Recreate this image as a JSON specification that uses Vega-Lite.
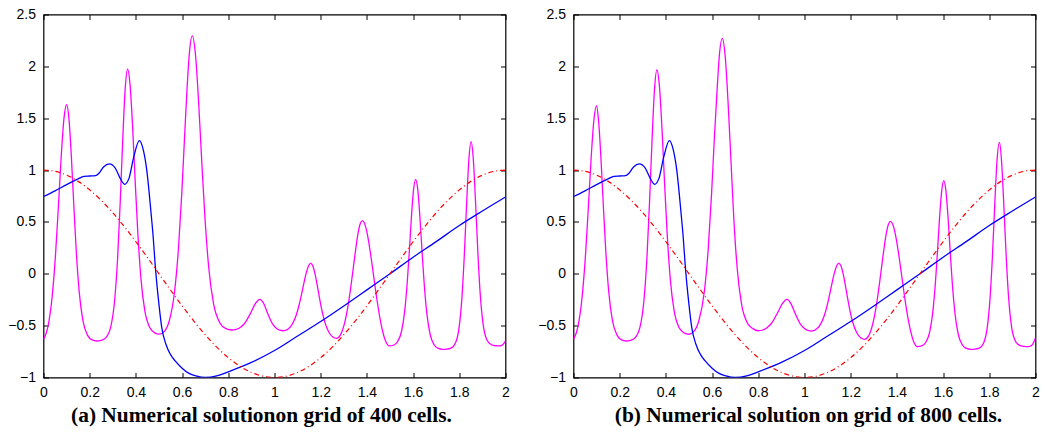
{
  "$schema": "https://vega.github.io/schema/vega-lite/v6.json",
  "padding": {"left": 6.5, "top": 6.5, "right": 5, "bottom": 5},
  "background": "white",
  "config": {
    "view": {"stroke": "#000000", "strokeWidth": 1.2},
    "concat": {"spacing": 26},
    "axis": {
      "domain": false, "grid": false, "ticks": true, "tickSize": -5, "tickColor": "#000000", "tickWidth": 1,
      "labelFont": "Liberation Sans", "labelFontSize": 14, "labelColor": "#000000", "labelPadding": 13,
      "labelFlush": false, "labelOverlap": false, "labelBound": false, "title": null, "format": "~g"
    },
    "title": {"font": "Liberation Serif", "fontSize": 21.4, "fontWeight": "bold", "color": "#000000", "orient": "bottom", "offset": 5}
  },
  "datasets": {
    "rd": [
      {"x":0,"y":1},{"x":0.05,"y":0.9877},{"x":0.1,"y":0.9511},{"x":0.15,"y":0.891},{"x":0.2,"y":0.809},{"x":0.25,"y":0.7071},{"x":0.3,"y":0.5878},{"x":0.35,"y":0.454},{"x":0.4,"y":0.309},{"x":0.45,"y":0.1564},
      {"x":0.5,"y":0},{"x":0.55,"y":-0.1564},{"x":0.6,"y":-0.309},{"x":0.65,"y":-0.454},{"x":0.7,"y":-0.5878},{"x":0.75,"y":-0.7071},{"x":0.8,"y":-0.809},{"x":0.85,"y":-0.891},{"x":0.9,"y":-0.9511},{"x":0.95,"y":-0.9877},
      {"x":1,"y":-1},{"x":1.05,"y":-0.9877},{"x":1.1,"y":-0.9511},{"x":1.15,"y":-0.891},{"x":1.2,"y":-0.809},{"x":1.25,"y":-0.7071},{"x":1.3,"y":-0.5878},{"x":1.35,"y":-0.454},{"x":1.4,"y":-0.309},{"x":1.45,"y":-0.1564},
      {"x":1.5,"y":0},{"x":1.55,"y":0.1564},{"x":1.6,"y":0.309},{"x":1.65,"y":0.454},{"x":1.7,"y":0.5878},{"x":1.75,"y":0.7071},{"x":1.8,"y":0.809},{"x":1.85,"y":0.891},{"x":1.9,"y":0.9511},{"x":1.95,"y":0.9877},{"x":2,"y":1}
    ],
    "bl": [
      {"x":0,"y":0.745},{"x":0.05,"y":0.8},{"x":0.1,"y":0.86},{"x":0.15,"y":0.915},{"x":0.175,"y":0.94},{"x":0.2,"y":0.943},{"x":0.225,"y":0.946},{"x":0.24,"y":0.97},{"x":0.26,"y":1.03},{"x":0.285,"y":1.059},
      {"x":0.31,"y":1.02},{"x":0.33,"y":0.93},{"x":0.351,"y":0.863},{"x":0.37,"y":0.92},{"x":0.39,"y":1.12},{"x":0.415,"y":1.283},{"x":0.432,"y":1.194},{"x":0.447,"y":1.0},{"x":0.465,"y":0.6},{"x":0.475,"y":0.35},
      {"x":0.483,"y":0.1},{"x":0.5,"y":-0.3},{"x":0.512,"y":-0.52},{"x":0.53,"y":-0.68},{"x":0.55,"y":-0.78},{"x":0.57,"y":-0.84},{"x":0.6,"y":-0.91},{"x":0.63,"y":-0.96},{"x":0.66,"y":-0.985},{"x":0.7,"y":-1.0},
      {"x":0.75,"y":-0.985},{"x":0.8,"y":-0.945},{"x":0.9,"y":-0.855},{"x":1.0,"y":-0.74},{"x":1.1,"y":-0.6},{"x":1.2,"y":-0.46},{"x":1.3,"y":-0.31},{"x":1.4,"y":-0.155},{"x":1.5,"y":0.0},{"x":1.6,"y":0.16},
      {"x":1.7,"y":0.31},{"x":1.8,"y":0.465},{"x":1.9,"y":0.605},{"x":2.0,"y":0.74}
    ],
    "ma": [
      {"x":0,"y":-0.632},{"x":0.019,"y":-0.512},{"x":0.037,"y":-0.231},{"x":0.052,"y":0.182},{"x":0.064,"y":0.629},{"x":0.076,"y":1.106},{"x":0.088,"y":1.484},{"x":0.1,"y":1.63},{"x":0.1104,"y":1.489},{"x":0.1208,"y":1.122},
      {"x":0.1312,"y":0.66},{"x":0.1416,"y":0.227},{"x":0.1546,"y":-0.174},{"x":0.1702,"y":-0.446},{"x":0.191,"y":-0.594},{"x":0.2105,"y":-0.638},{"x":0.23,"y":-0.648},{"x":0.2501,"y":-0.642},{"x":0.2702,"y":-0.616},{"x":0.2916,"y":-0.508},
      {"x":0.3077,"y":-0.263},{"x":0.3211,"y":0.161},{"x":0.3318,"y":0.675},{"x":0.3426,"y":1.27},{"x":0.3533,"y":1.773},{"x":0.364,"y":1.972},{"x":0.375,"y":1.814},{"x":0.3861,"y":1.402},{"x":0.3971,"y":0.884},{"x":0.4082,"y":0.399},
      {"x":0.422,"y":-0.051},{"x":0.4385,"y":-0.356},{"x":0.4606,"y":-0.521},{"x":0.4813,"y":-0.57},{"x":0.502,"y":-0.582},{"x":0.5233,"y":-0.555},{"x":0.5446,"y":-0.453},{"x":0.5673,"y":-0.173},{"x":0.5844,"y":0.248},{"x":0.5986,"y":0.775},
      {"x":0.6099,"y":1.282},{"x":0.6213,"y":1.781},{"x":0.6326,"y":2.155},{"x":0.644,"y":2.293},{"x":0.6577,"y":2.117},{"x":0.6714,"y":1.661},{"x":0.685,"y":1.085},{"x":0.6987,"y":0.547},{"x":0.7158,"y":0.048},{"x":0.7363,"y":-0.291},
      {"x":0.7637,"y":-0.474},{"x":0.7894,"y":-0.529},{"x":0.815,"y":-0.542},{"x":0.8333,"y":-0.537},{"x":0.8516,"y":-0.518},{"x":0.8711,"y":-0.477},{"x":0.898,"y":-0.373},{"x":0.9175,"y":-0.286},{"x":0.937,"y":-0.246},{"x":0.9532,"y":-0.287},
      {"x":0.9693,"y":-0.376},{"x":0.9915,"y":-0.483},{"x":1.0077,"y":-0.525},{"x":1.0229,"y":-0.544},{"x":1.038,"y":-0.549},{"x":1.0558,"y":-0.537},{"x":1.0737,"y":-0.497},{"x":1.0927,"y":-0.407},{"x":1.107,"y":-0.296},{"x":1.1189,"y":-0.178},
      {"x":1.1284,"y":-0.0775},{"x":1.138,"y":0.0135},{"x":1.1475,"y":0.078},{"x":1.157,"y":0.101},{"x":1.166,"y":0.075},{"x":1.1749,"y":0.0037},{"x":1.1839,"y":-0.0975},{"x":1.1928,"y":-0.209},{"x":1.204,"y":-0.341},{"x":1.2175,"y":-0.464},
      {"x":1.2354,"y":-0.564},{"x":1.2522,"y":-0.609},{"x":1.269,"y":-0.622},{"x":1.2856,"y":-0.589},{"x":1.3023,"y":-0.485},{"x":1.3201,"y":-0.285},{"x":1.3334,"y":-0.077},{"x":1.3445,"y":0.117},{"x":1.3534,"y":0.268},{"x":1.3622,"y":0.396},
      {"x":1.3711,"y":0.482},{"x":1.38,"y":0.512},{"x":1.3894,"y":0.487},{"x":1.3989,"y":0.413},{"x":1.4083,"y":0.301},{"x":1.4178,"y":0.162},{"x":1.4296,"y":-0.029},{"x":1.4437,"y":-0.253},{"x":1.4626,"y":-0.499},{"x":1.4803,"y":-0.645},
      {"x":1.498,"y":-0.696},{"x":1.515,"y":-0.689},{"x":1.5319,"y":-0.658},{"x":1.55,"y":-0.554},{"x":1.5635,"y":-0.362},{"x":1.5748,"y":-0.079},{"x":1.5839,"y":0.226},{"x":1.5929,"y":0.553},{"x":1.602,"y":0.811},{"x":1.611,"y":0.911},
      {"x":1.6203,"y":0.809},{"x":1.6296,"y":0.545},{"x":1.6388,"y":0.213},{"x":1.6481,"y":-0.099},{"x":1.6597,"y":-0.387},{"x":1.6736,"y":-0.583},{"x":1.6922,"y":-0.689},{"x":1.7096,"y":-0.72},{"x":1.727,"y":-0.728},{"x":1.7456,"y":-0.726},
      {"x":1.7642,"y":-0.716},{"x":1.784,"y":-0.664},{"x":1.7989,"y":-0.522},{"x":1.8113,"y":-0.235},{"x":1.8212,"y":0.157},{"x":1.8312,"y":0.651},{"x":1.8411,"y":1.09},{"x":1.851,"y":1.274},{"x":1.861,"y":1.093},{"x":1.871,"y":0.661},
      {"x":1.881,"y":0.175},{"x":1.891,"y":-0.21},{"x":1.9035,"y":-0.493},{"x":1.9185,"y":-0.633},{"x":1.9385,"y":-0.684},{"x":1.9573,"y":-0.694},{"x":1.976,"y":-0.696},{"x":1.988,"y":-0.684},{"x":2.0,"y":-0.648}
    ],
    "mb": [
      {"x":0,"y":-0.632},{"x":0.019,"y":-0.512},{"x":0.037,"y":-0.231},{"x":0.052,"y":0.182},{"x":0.064,"y":0.629},{"x":0.076,"y":1.1},{"x":0.088,"y":1.475},{"x":0.1,"y":1.62},{"x":0.1084,"y":1.48},{"x":0.1188,"y":1.115},
      {"x":0.1292,"y":0.656},{"x":0.1396,"y":0.225},{"x":0.1526,"y":-0.174},{"x":0.1682,"y":-0.446},{"x":0.189,"y":-0.594},{"x":0.2085,"y":-0.638},{"x":0.227,"y":-0.648},{"x":0.2471,"y":-0.642},{"x":0.2672,"y":-0.616},{"x":0.2886,"y":-0.508},
      {"x":0.3047,"y":-0.263},{"x":0.3181,"y":0.161},{"x":0.3288,"y":0.673},{"x":0.3396,"y":1.266},{"x":0.3503,"y":1.766},{"x":0.361,"y":1.965},{"x":0.372,"y":1.807},{"x":0.3831,"y":1.397},{"x":0.3941,"y":0.881},{"x":0.4052,"y":0.397},
      {"x":0.419,"y":-0.051},{"x":0.4355,"y":-0.356},{"x":0.4576,"y":-0.521},{"x":0.4783,"y":-0.57},{"x":0.499,"y":-0.583},{"x":0.5213,"y":-0.555},{"x":0.5426,"y":-0.453},{"x":0.5663,"y":-0.173},{"x":0.5834,"y":0.245},{"x":0.5976,"y":0.768},
      {"x":0.6089,"y":1.27},{"x":0.6213,"y":1.762},{"x":0.6326,"y":2.134},{"x":0.644,"y":2.27},{"x":0.6567,"y":2.096},{"x":0.6694,"y":1.643},{"x":0.682,"y":1.075},{"x":0.6937,"y":0.542},{"x":0.7088,"y":0.048},{"x":0.7273,"y":-0.291},
      {"x":0.7527,"y":-0.474},{"x":0.7764,"y":-0.529},{"x":0.801,"y":-0.549},{"x":0.8193,"y":-0.542},{"x":0.8376,"y":-0.52},{"x":0.8571,"y":-0.477},{"x":0.884,"y":-0.373},{"x":0.9045,"y":-0.286},{"x":0.924,"y":-0.246},{"x":0.9412,"y":-0.287},
      {"x":0.9583,"y":-0.376},{"x":0.9815,"y":-0.483},{"x":0.9987,"y":-0.525},{"x":1.0149,"y":-0.546},{"x":1.031,"y":-0.552},{"x":1.0478,"y":-0.54},{"x":1.0657,"y":-0.5},{"x":1.0847,"y":-0.409},{"x":1.099,"y":-0.297},{"x":1.1109,"y":-0.178},
      {"x":1.1204,"y":-0.078},{"x":1.13,"y":0.013},{"x":1.1395,"y":0.077},{"x":1.148,"y":0.1},{"x":1.158,"y":0.074},{"x":1.1669,"y":0.003},{"x":1.1759,"y":-0.099},{"x":1.1848,"y":-0.212},{"x":1.196,"y":-0.347},{"x":1.2095,"y":-0.472},
      {"x":1.2274,"y":-0.573},{"x":1.2442,"y":-0.619},{"x":1.26,"y":-0.632},{"x":1.2776,"y":-0.598},{"x":1.2943,"y":-0.493},{"x":1.3121,"y":-0.29},{"x":1.3254,"y":-0.08},{"x":1.3365,"y":0.113},{"x":1.3454,"y":0.263},{"x":1.3542,"y":0.39},
      {"x":1.3631,"y":0.476},{"x":1.371,"y":0.506},{"x":1.3814,"y":0.481},{"x":1.3909,"y":0.407},{"x":1.4003,"y":0.296},{"x":1.4098,"y":0.157},{"x":1.4216,"y":-0.033},{"x":1.4357,"y":-0.258},{"x":1.4546,"y":-0.505},{"x":1.4723,"y":-0.652},
      {"x":1.489,"y":-0.703},{"x":1.507,"y":-0.696},{"x":1.5239,"y":-0.665},{"x":1.542,"y":-0.56},{"x":1.5555,"y":-0.367},{"x":1.5668,"y":-0.083},{"x":1.5759,"y":0.222},{"x":1.5849,"y":0.546},{"x":1.594,"y":0.799},{"x":1.603,"y":0.898},
      {"x":1.6123,"y":0.797},{"x":1.6216,"y":0.538},{"x":1.6308,"y":0.209},{"x":1.6401,"y":-0.101},{"x":1.6517,"y":-0.388},{"x":1.6656,"y":-0.583},{"x":1.6842,"y":-0.689},{"x":1.7016,"y":-0.72},{"x":1.72,"y":-0.728},{"x":1.7376,"y":-0.726},
      {"x":1.7562,"y":-0.716},{"x":1.776,"y":-0.664},{"x":1.7909,"y":-0.522},{"x":1.8033,"y":-0.235},{"x":1.8132,"y":0.155},{"x":1.8232,"y":0.647},{"x":1.8331,"y":1.085},{"x":1.844,"y":1.268},{"x":1.853,"y":1.088},{"x":1.863,"y":0.658},
      {"x":1.873,"y":0.173},{"x":1.883,"y":-0.212},{"x":1.8955,"y":-0.497},{"x":1.9105,"y":-0.638},{"x":1.9305,"y":-0.69},{"x":1.9493,"y":-0.7},{"x":1.97,"y":-0.703},{"x":1.984,"y":-0.69},{"x":2.0,"y":-0.62}
    ]
  },
  "hconcat": [
    {
      "width": 462, "height": 363,
      "title": {"text": "(a) Numerical solutionon grid of 400 cells.", "dx": -13},
      "layer": [
        {
          "data": {"name": "ma"},
          "mark": {"type": "line", "color": "#ff00ff", "strokeWidth": 1.3, "interpolate": "monotone", "clip": true},
          "encoding": {
            "x": {"field": "x", "type": "quantitative", "scale": {"domain": [0, 2], "nice": false, "zero": false}, "axis": {"orient": "bottom", "values": [0, 0.2, 0.4, 0.6, 0.8, 1, 1.2, 1.4, 1.6, 1.8, 2]}},
            "y": {"field": "y", "type": "quantitative", "scale": {"domain": [-1, 2.5], "nice": false, "zero": false}, "axis": {"orient": "left", "values": [-1, -0.5, 0, 0.5, 1, 1.5, 2, 2.5]}}
          }
        },
        {
          "data": {"name": "bl"},
          "mark": {"type": "line", "color": "#0000ff", "strokeWidth": 1.3, "interpolate": "monotone", "clip": true},
          "encoding": {
            "x": {"field": "x", "type": "quantitative", "scale": {"domain": [0, 2], "nice": false, "zero": false}, "axis": {"orient": "top", "labels": false, "values": [0, 0.2, 0.4, 0.6, 0.8, 1, 1.2, 1.4, 1.6, 1.8, 2]}},
            "y": {"field": "y", "type": "quantitative", "scale": {"domain": [-1, 2.5], "nice": false, "zero": false}, "axis": {"orient": "right", "labels": false, "values": [-1, -0.5, 0, 0.5, 1, 1.5, 2, 2.5]}}
          }
        },
        {
          "data": {"name": "rd"},
          "mark": {"type": "line", "color": "#ff0000", "strokeWidth": 1.2, "strokeDash": [5, 3, 1, 3], "interpolate": "monotone", "clip": true},
          "encoding": {
            "x": {"field": "x", "type": "quantitative", "scale": {"domain": [0, 2], "nice": false, "zero": false}, "axis": null},
            "y": {"field": "y", "type": "quantitative", "scale": {"domain": [-1, 2.5], "nice": false, "zero": false}, "axis": null}
          }
        }
      ],
      "resolve": {"axis": {"x": "independent", "y": "independent"}}
    },
    {
      "width": 462, "height": 363,
      "title": {"text": "(b) Numerical solution on grid of 800 cells.", "dx": 4},
      "layer": [
        {
          "data": {"name": "mb"},
          "mark": {"type": "line", "color": "#ff00ff", "strokeWidth": 1.3, "interpolate": "monotone", "clip": true},
          "encoding": {
            "x": {"field": "x", "type": "quantitative", "scale": {"domain": [0, 2], "nice": false, "zero": false}, "axis": {"orient": "bottom", "values": [0, 0.2, 0.4, 0.6, 0.8, 1, 1.2, 1.4, 1.6, 1.8, 2]}},
            "y": {"field": "y", "type": "quantitative", "scale": {"domain": [-1, 2.5], "nice": false, "zero": false}, "axis": {"orient": "left", "values": [-1, -0.5, 0, 0.5, 1, 1.5, 2, 2.5]}}
          }
        },
        {
          "data": {"name": "bl"},
          "mark": {"type": "line", "color": "#0000ff", "strokeWidth": 1.3, "interpolate": "monotone", "clip": true},
          "encoding": {
            "x": {"field": "x", "type": "quantitative", "scale": {"domain": [0, 2], "nice": false, "zero": false}, "axis": {"orient": "top", "labels": false, "values": [0, 0.2, 0.4, 0.6, 0.8, 1, 1.2, 1.4, 1.6, 1.8, 2]}},
            "y": {"field": "y", "type": "quantitative", "scale": {"domain": [-1, 2.5], "nice": false, "zero": false}, "axis": {"orient": "right", "labels": false, "values": [-1, -0.5, 0, 0.5, 1, 1.5, 2, 2.5]}}
          }
        },
        {
          "data": {"name": "rd"},
          "mark": {"type": "line", "color": "#ff0000", "strokeWidth": 1.2, "strokeDash": [5, 3, 1, 3], "interpolate": "monotone", "clip": true},
          "encoding": {
            "x": {"field": "x", "type": "quantitative", "scale": {"domain": [0, 2], "nice": false, "zero": false}, "axis": null},
            "y": {"field": "y", "type": "quantitative", "scale": {"domain": [-1, 2.5], "nice": false, "zero": false}, "axis": null}
          }
        }
      ],
      "resolve": {"axis": {"x": "independent", "y": "independent"}}
    }
  ]
}
